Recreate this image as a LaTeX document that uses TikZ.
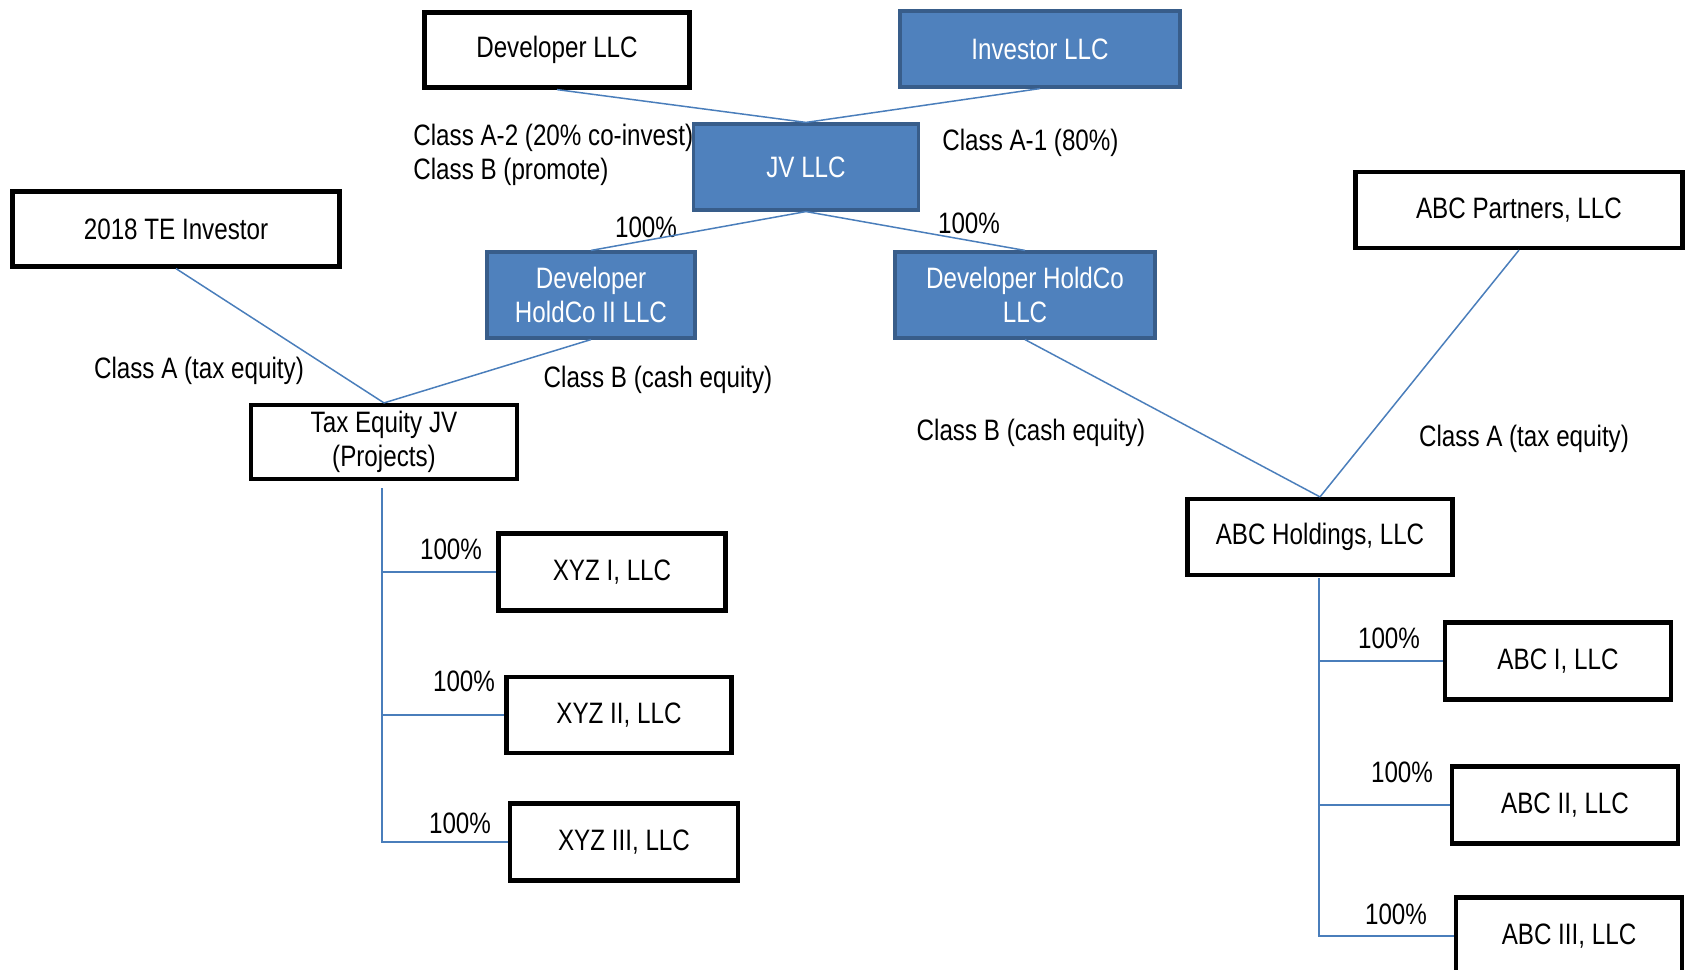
\documentclass[tikz,border=0pt]{standalone}
\usepackage{fontspec}
\setmainfont{Liberation Sans}[FakeStretch=0.82]
\usepackage{tikz}
\usetikzlibrary{positioning}
\definecolor{entityblue}{RGB}{79, 129, 189}
\definecolor{entityedge}{RGB}{56, 93, 138}
\definecolor{linkblue}{RGB}{74, 126, 187}
\newcommand{\chartfont}{\fontsize{16.8}{19.6}\selectfont}

\begin{document}
\begin{tikzpicture}[
    x=0.02cm, y=-0.02cm,
    entity/.style={rectangle, draw=black, line width=2.4pt, fill=white, align=center, font=\chartfont, inner sep=0pt},
    blueentity/.style={entity, draw=entityedge, fill=entityblue, text=white, line width=1.8pt},
    link/.style={draw=linkblue, line width=0.85pt},
    tag/.style={font=\chartfont, inner sep=0pt}
]
    \useasboundingbox (0,0) rectangle (1688,970);
    \clip (0,0) rectangle (1688,970);

    % Row 1: Owners
    \node[entity, minimum width=5.3cm, minimum height=1.5cm] (dev) at (557, 50) {Developer LLC};
    \node[blueentity, minimum width=5.6cm, minimum height=1.52cm] (inv) at (1040, 49) {Investor LLC};

    % Row 2: JV
    \node[blueentity, minimum width=4.5cm, minimum height=1.72cm] (jv) at (806, 167) {JV LLC};
    \node[entity, minimum width=6.54cm, minimum height=1.5cm] (te) at (176, 229) {2018 TE Investor};
    \node[entity, minimum width=6.54cm, minimum height=1.52cm] (abcp) at (1519, 210) {ABC Partners, LLC};

    % Row 3: HoldCos
    \node[blueentity, minimum width=4.16cm, minimum height=1.72cm] (hcoii) at (591, 295) {Developer\\HoldCo II LLC};
    \node[blueentity, minimum width=5.2cm, minimum height=1.72cm] (hco) at (1025, 295) {Developer HoldCo\\LLC};

    % Row 4: Project companies
    \node[entity, minimum width=5.32cm, minimum height=1.48cm] (taxjv) at (384, 442) {Tax Equity JV\\(Projects)};
    \node[entity, minimum width=5.3cm, minimum height=1.52cm] (abch) at (1320, 537) {ABC Holdings, LLC};

    \node[entity, minimum width=4.54cm, minimum height=1.54cm] (xyz1) at (612, 572) {XYZ I, LLC};
    \node[entity, minimum width=4.5cm, minimum height=1.52cm] (xyz2) at (619, 715) {XYZ II, LLC};
    \node[entity, minimum width=4.56cm, minimum height=1.54cm] (xyz3) at (624, 842) {XYZ III, LLC};

    \node[entity, minimum width=4.52cm, minimum height=1.54cm] (abc1) at (1558, 661) {ABC I, LLC};
    \node[entity, minimum width=4.52cm, minimum height=1.54cm] (abc2) at (1565, 805) {ABC II, LLC};
    \node[entity, minimum width=4.52cm, minimum height=1.54cm] (abc3) at (1569, 936) {ABC III, LLC};

    % Labels
    \node[tag, anchor=west, align=left] (devcls) at (413, 155) {Class A-2 (20\% co-invest)\\Class B (promote)};
    \node[tag, anchor=west] (invcls) at (942, 143) {Class A-1 (80\%)};
    \node[tag] (hcoiipct) at (646, 227) {100\%};
    \node[tag] (hcopct) at (969, 223) {100\%};
    \node[tag] (tecls) at (199, 371) {Class A (tax equity)};
    \node[tag] (hcoiicls) at (658, 380) {Class B (cash equity)};
    \node[tag] (hcocls) at (1031, 433) {Class B (cash equity)};
    \node[tag] (abcpcls) at (1524, 439) {Class A (tax equity)};
    \node[tag] (xyz1pct) at (451, 549) {100\%};
    \node[tag] (xyz2pct) at (464, 681) {100\%};
    \node[tag] (xyz3pct) at (460, 823) {100\%};
    \node[tag] (abc1pct) at (1389, 638) {100\%};
    \node[tag] (abc2pct) at (1402, 772) {100\%};
    \node[tag] (abc3pct) at (1396, 914) {100\%};

    % Connectors
    \draw[link] (dev.south) -- (jv.north);
    \draw[link] (inv.south) -- (jv.north);
    \draw[link] (jv.south) -- (hcoii.north);
    \draw[link] (jv.south) -- (hco.north);
    \draw[link] (te.south) -- (taxjv.north);
    \draw[link] (hcoii.south) -- (taxjv.north);
    \draw[link] (hco.south) -- (abch.north);
    \draw[link] (abcp.south) -- (abch.north);

    % Trunks
    \coordinate (taxtrunk) at (382, 488);
    \coordinate (abctrunk) at (1319, 578);
    \draw[link] (taxtrunk) |- (xyz1.west);
    \draw[link] (taxtrunk) |- (xyz2.west);
    \draw[link] (taxtrunk) |- (xyz3.west);
    \draw[link] (abctrunk) |- (abc1.west);
    \draw[link] (abctrunk) |- (abc2.west);
    \draw[link] (abctrunk) |- (abc3.west);
\end{tikzpicture}
\end{document}
